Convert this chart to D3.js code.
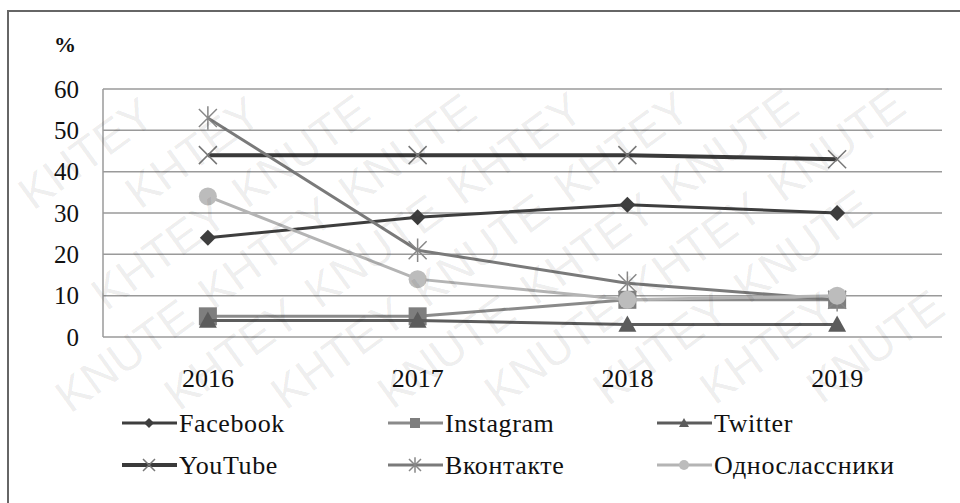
<!DOCTYPE html>
<html>
<head>
<meta charset="utf-8">
<script src="https://cdn.jsdelivr.net/npm/d3@7"></script>
<style>
  body { margin: 0; background: #fff; }
</style>
</head>
<body>
<div id="chart"></div>
<script>
const years = ['2016', '2017', '2018', '2019'];
const yTicks = [0, 10, 20, 30, 40, 50, 60];

const facebook = [24, 29, 32, 30];
const instagram = [5, 5, 9, 9];
const twitter = [4, 4, 3, 3];
const youtube = [44, 44, 44, 43];
const vkontakte = [53, 21, 13, 9];
const odnoklassniki = [34, 14, 9, 10];

const seriesNames = ['Facebook', 'Instagram', 'Twitter', 'YouTube', 'Вконтакте', 'Однослассники'];
const seriesValues = [facebook, instagram, twitter, youtube, vkontakte, odnoklassniki];
const seriesStyle = [
  { line: '#3e3e3e', fill: '#3e3e3e', marker: 'diamond', width: 3 },
  { line: '#8a8a8a', fill: '#7e7e7e', marker: 'square', width: 3 },
  { line: '#5c5c5c', fill: '#5c5c5c', marker: 'triangle', width: 3 },
  { line: '#3a3a3a', fill: '#777', marker: 'x', width: 4 },
  { line: '#7a7a7a', fill: '#888', marker: 'star', width: 3 },
  { line: '#b4b4b4', fill: '#bcbcbc', marker: 'circle', width: 3 }
];

const serif = '"Liberation Serif", "Times New Roman", serif';
const width = 960, height = 503;
const plot = { left: 103, right: 942, top: 89, bottom: 337 };

const svg = d3.select('#chart').append('svg')
  .attr('width', width)
  .attr('height', height);

// outer frame (only top and left edges fall inside the picture)
svg.append('rect')
  .attr('x', 8).attr('y', 11)
  .attr('width', 980).attr('height', 520)
  .attr('fill', '#fff')
  .attr('stroke', '#666')
  .attr('stroke-width', 2);

const x = d3.scalePoint().domain(years).range([plot.left, plot.right]).padding(0.5);
const y = d3.scaleLinear().domain([0, 60]).range([plot.bottom, plot.top]);

// grid lines
svg.append('g')
  .selectAll('line')
  .data(yTicks)
  .enter()
  .append('line')
  .attr('x1', plot.left)
  .attr('x2', plot.right)
  .attr('y1', d => y(d))
  .attr('y2', d => y(d))
  .attr('stroke', '#9a9a9a')
  .attr('stroke-width', 1.5);

svg.append('line')
  .attr('x1', plot.left).attr('x2', plot.left)
  .attr('y1', plot.top).attr('y2', plot.bottom)
  .attr('stroke', '#9a9a9a')
  .attr('stroke-width', 1.5);

// y axis labels
svg.append('g')
  .selectAll('text')
  .data(yTicks)
  .enter()
  .append('text')
  .attr('x', 79)
  .attr('y', d => y(d))
  .attr('dy', '0.35em')
  .attr('text-anchor', 'end')
  .attr('font-family', serif)
  .attr('font-size', 25)
  .attr('fill', '#111')
  .text(d => d);

svg.append('text')
  .attr('x', 54).attr('y', 52)
  .attr('font-family', serif)
  .attr('font-size', 22)
  .attr('font-weight', 'bold')
  .attr('fill', '#111')
  .text('%');

// x axis labels
svg.append('g')
  .selectAll('text')
  .data(years)
  .enter()
  .append('text')
  .attr('x', d => x(d))
  .attr('y', 387)
  .attr('text-anchor', 'middle')
  .attr('font-family', serif)
  .attr('font-size', 26)
  .attr('fill', '#111')
  .text(d => d);

function drawMarker(g, type, cx, cy, style, s) {
  if (type === 'diamond') {
    g.append('path')
      .attr('d', `M${cx},${cy - s}L${cx + s},${cy}L${cx},${cy + s}L${cx - s},${cy}Z`)
      .attr('fill', style.fill);
  } else if (type === 'square') {
    g.append('rect')
      .attr('x', cx - s).attr('y', cy - s)
      .attr('width', 2 * s).attr('height', 2 * s)
      .attr('fill', style.fill);
  } else if (type === 'triangle') {
    g.append('path')
      .attr('d', `M${cx},${cy - s}L${cx + s},${cy + s * 0.8}L${cx - s},${cy + s * 0.8}Z`)
      .attr('fill', style.fill);
  } else if (type === 'x') {
    g.append('path')
      .attr('d', `M${cx - s},${cy - s}L${cx + s},${cy + s}M${cx - s},${cy + s}L${cx + s},${cy - s}`)
      .attr('stroke', style.fill)
      .attr('stroke-width', 1.5);
  } else if (type === 'star') {
    g.append('path')
      .attr('d', `M${cx - s},${cy - s}L${cx + s},${cy + s}M${cx - s},${cy + s}L${cx + s},${cy - s}M${cx},${cy - s * 1.3}L${cx},${cy + s * 1.3}`)
      .attr('stroke', style.fill)
      .attr('stroke-width', 1.5);
  } else if (type === 'circle') {
    g.append('circle')
      .attr('cx', cx).attr('cy', cy).attr('r', s)
      .attr('fill', style.fill);
  }
}

const markerSize = { diamond: 8, square: 9, triangle: 9, x: 9, star: 9, circle: 9 };
const legendMarker = { diamond: 5, square: 5, triangle: 5, x: 6, star: 6, circle: 5 };

const line = d3.line()
  .x((d, i) => x(years[i]))
  .y(d => y(d));

seriesValues.forEach((vals, k) => {
  const st = seriesStyle[k];
  const g = svg.append('g').attr('class', 'series');
  g.append('path')
    .datum(vals)
    .attr('d', line)
    .attr('fill', 'none')
    .attr('stroke', st.line)
    .attr('stroke-width', st.width);
  vals.forEach((v, i) => {
    drawMarker(g, st.marker, x(years[i]), y(v), st, markerSize[st.marker]);
  });
});

// legend
const legendX = [122, 388, 657];
const legendY = [423, 465];
seriesNames.forEach((name, k) => {
  const st = seriesStyle[k];
  const lx = legendX[k % 3];
  const ly = legendY[Math.floor(k / 3)];
  const g = svg.append('g').attr('class', 'legend');
  g.append('line')
    .attr('x1', lx).attr('x2', lx + 55)
    .attr('y1', ly).attr('y2', ly)
    .attr('stroke', st.line)
    .attr('stroke-width', st.width);
  drawMarker(g, st.marker, lx + 27, ly, st, legendMarker[st.marker]);
  g.append('text')
    .attr('x', lx + 57)
    .attr('y', ly)
    .attr('dy', '0.33em')
    .attr('font-family', serif)
    .attr('font-size', 26)
    .attr('letter-spacing', 0.6)
    .attr('fill', '#111')
    .text(name);
});

// watermark: single words on a rotated grid, kept only where they fit whole
const wmWords = ['KNUTE', 'KHTEY'];
const angle = -36 * Math.PI / 180;
const wmCells = [];
for (let r = -12; r <= 12; r++) {
  for (let c = -12; c <= 12; c++) {
    const u = c * 175 + (r % 2 ? 88 : 0);
    const v = r * 62;
    const cx = 480 + u * Math.cos(angle) - v * Math.sin(angle);
    const cy = 250 + u * Math.sin(angle) + v * Math.cos(angle);
    if (cx > 74 && cx < 886 && cy > 62 && cy < 425) {
      wmCells.push({ cx, cy, word: wmWords[(c + r + 100) % 2] });
    }
  }
}
svg.append('g')
  .attr('class', 'watermark')
  .attr('pointer-events', 'none')
  .selectAll('text')
  .data(wmCells)
  .enter()
  .append('text')
  .attr('transform', d => `translate(${d.cx},${d.cy}) rotate(-36)`)
  .attr('text-anchor', 'middle')
  .attr('dy', '0.35em')
  .attr('font-family', '"Liberation Sans", Arial, sans-serif')
  .attr('font-size', 46)
  .attr('fill', '#000')
  .attr('fill-opacity', 0.08)
  .text(d => d.word);
</script>
</body>
</html>
